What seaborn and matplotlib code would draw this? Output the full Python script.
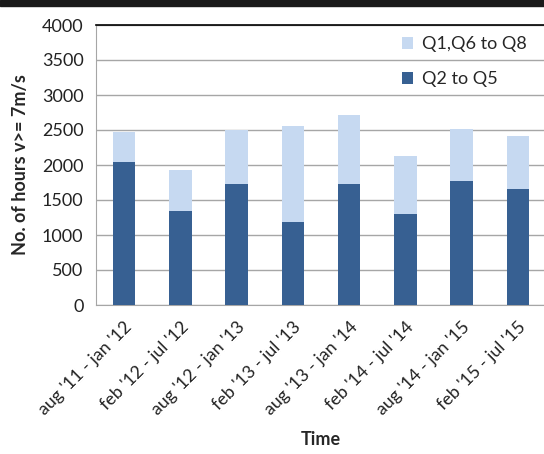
import matplotlib
matplotlib.use("Agg")
import matplotlib.pyplot as plt
from matplotlib.patches import Rectangle, Patch
import seaborn as sns
import pandas as pd

periods = ["aug '11 - jan '12", "feb '12 - jul '12", "aug '12 - jan '13",
           "feb '13 - jul '13", "aug '13 - jan '14", "feb '14 - jul '14",
           "aug '14 - jan '15", "feb '15 - jul '15"]
q2_to_q5 = [2050, 1350, 1730, 1190, 1730, 1300, 1770, 1660]
q1_q6_to_q8 = [425, 580, 770, 1370, 980, 830, 750, 750]

dark = "#376092"
light = "#C6D9F1"
grid_c = "#a6a6a6"

df = pd.DataFrame({"period": periods, "low": q2_to_q5, "high": q1_q6_to_q8})
df["total"] = df["low"] + df["high"]

sns.set_style("white")
plt.rcParams["font.family"] = ["Lato", "DejaVu Sans"]

fig = plt.figure(figsize=(5.44, 4.54), dpi=100)
ax = fig.add_axes([96 / 544, 149 / 454, 450 / 544, 280 / 454])

sns.barplot(data=df, x="period", y="total", color=light, width=0.4,
            saturation=1, ax=ax, zorder=3, edgecolor="none")
sns.barplot(data=df, x="period", y="low", color=dark, width=0.4,
            saturation=1, ax=ax, zorder=4, edgecolor="none")

ax.set_ylim(0, 4000)
ax.set_xlim(-0.5, 7.47)
ax.set_yticks(range(0, 4001, 500))
ax.yaxis.grid(True, color=grid_c, lw=1, zorder=0)
ax.set_axisbelow(True)

ax.spines["right"].set_visible(False)
ax.spines["top"].set_color("black")
ax.spines["top"].set_linewidth(1.2)
ax.spines["left"].set_color(grid_c)
ax.spines["bottom"].set_color(grid_c)

ax.set_xticks(range(len(periods)))
ax.set_xticklabels(periods, rotation=45, ha="right", rotation_mode="anchor",
                   fontsize=12.8, color="#222222")
ax.set_xticks([i - 0.5 for i in range(len(periods) + 1)], minor=True)
ax.tick_params(axis="x", which="major", length=0, pad=10)
ax.tick_params(axis="x", which="minor", length=5, color=grid_c, direction="out")
ax.tick_params(axis="y", length=5, color=grid_c, direction="out",
               labelsize=13, labelcolor="#222222", pad=4)

ax.set_xlabel("Time", fontsize=13, fontweight="bold", labelpad=9)
ax.set_ylabel("No. of hours v>= 7m/s", fontsize=13, fontweight="bold",
              labelpad=9)

handles = [Patch(facecolor=light, edgecolor="none", label="Q1,Q6 to Q8"),
           Patch(facecolor=dark, edgecolor="none", label="Q2 to Q5")]
ax.legend(handles=handles, loc="upper left", bbox_to_anchor=(0.665, 0.985),
          frameon=False, fontsize=13, handlelength=0.6, handleheight=0.6,
          handletextpad=0.5, labelspacing=1.05, borderaxespad=0)

# dark banner across the top edge
fig.patches.append(Rectangle((0, 1 - 6 / 454), 1, 6 / 454,
                             transform=fig.transFigure, color="#1a1a1a",
                             zorder=10))

fig.savefig("out.png", dpi=100)
